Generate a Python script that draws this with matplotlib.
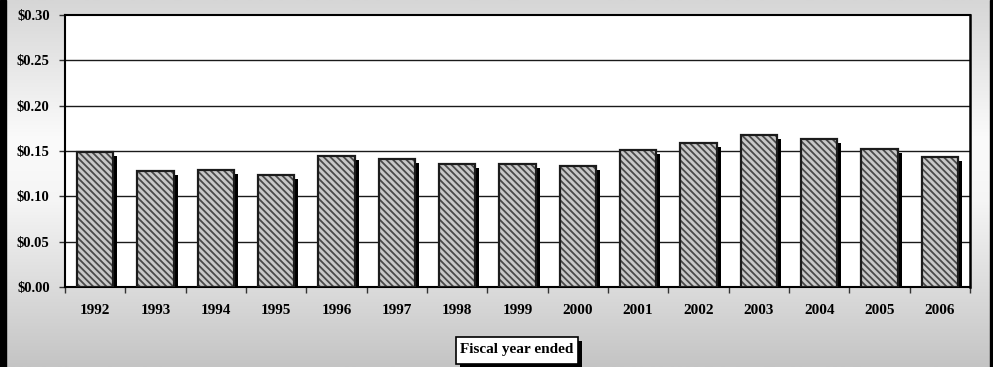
import matplotlib
matplotlib.use("Agg")
import matplotlib.pyplot as plt
from matplotlib.colors import LinearSegmentedColormap
import numpy as np

years = ["1992", "1993", "1994", "1995", "1996", "1997", "1998", "1999",
         "2000", "2001", "2002", "2003", "2004", "2005", "2006"]
dividends = [0.149, 0.128, 0.129, 0.123, 0.145, 0.141, 0.136, 0.136,
             0.133, 0.151, 0.159, 0.168, 0.163, 0.152, 0.143]
y_ticks = [0.00, 0.05, 0.10, 0.15, 0.20, 0.25, 0.30]
y_labels = ["$0.00", "$0.05", "$0.10", "$0.15", "$0.20", "$0.25", "$0.30"]
x_title = "Fiscal year ended"

plt.rcParams['font.family'] = ['Liberation Serif', 'DejaVu Serif']
plt.rcParams['font.weight'] = 'bold'
plt.rcParams['hatch.linewidth'] = 1.3
plt.rcParams['hatch.color'] = '#4a4a4a'

W, H = 993, 367
fig = plt.figure(figsize=(W / 100, H / 100), dpi=100)

# vertical grey-white-grey background
bg = fig.add_axes([0, 0, 1, 1], zorder=-10)
bg_cmap = LinearSegmentedColormap.from_list(
    'bg', [(0.0, '#c4c4c4'), (0.45, '#f5f5f5'), (0.62, '#fbfbfb'), (1.0, '#d6d6d6')])
grad = np.linspace(0, 1, 256).reshape(-1, 1)
bg.imshow(grad, aspect='auto', cmap=bg_cmap, origin='lower', extent=[0, 1, 0, 1])
bg.set_axis_off()
# frame bars at left and right edges
fig.patches.append(plt.Rectangle((0, 0), 6 / W, 1, transform=fig.transFigure,
                                 color='black', zorder=5))
fig.patches.append(plt.Rectangle((990 / W, 0), 3 / W, 1, transform=fig.transFigure,
                                 color='black', zorder=5))

ax = fig.add_axes([65 / W, 1 - 287 / H, (970 - 65) / W, (287 - 15) / H])
ax.set_facecolor('white')

x = np.arange(len(years))
bw = 0.6
# shadow offsets (4 px right and down)
dx = 4 / (905 / len(years))
dy = 4 / (272 / 0.30)
shadow_h = [v - dy for v in dividends]
ax.bar(x + dx, shadow_h, width=bw, color='black', zorder=2)
ax.bar(x, dividends, width=bw, facecolor='#c8c8c8', hatch='\\\\\\\\\\',
       edgecolor='#4a4a4a', linewidth=0, zorder=3)
ax.bar(x, dividends, width=bw, fill=False, edgecolor='#1c1c1c',
       linewidth=1.6, zorder=4)

ax.set_ylim(0, 0.30)
ax.set_xlim(-0.5, len(years) - 0.5)
ax.set_yticks(y_ticks)
ax.set_yticklabels(y_labels, fontsize=10.5, fontweight='bold')
for yv in y_ticks[1:-1]:
    ax.axhline(yv, color='#1a1a1a', lw=1.0, zorder=1)

ax.set_xticks(np.arange(len(years) + 1) - 0.5)
ax.set_xticklabels([])
ax.set_xticks(x, minor=True)
ax.set_xticklabels(years, minor=True, fontsize=11, fontweight='bold')
ax.tick_params(axis='x', which='minor', length=0, pad=12)
ax.tick_params(axis='x', which='major', length=4, width=1, color='#333333')
ax.tick_params(axis='y', length=4, width=1, pad=7, color='#333333')

for s in ax.spines.values():
    s.set_color('black')
    s.set_linewidth(1.5)
ax.spines['right'].set_linewidth(1.8)

# axis title in a white box with a drop shadow
t = fig.text(517 / W, 1 - 350 / H, x_title, ha='center', va='center',
             fontsize=11, fontweight='bold', color='black', zorder=12)
fig.canvas.draw()
tb = t.get_window_extent()
bx0, by0 = tb.x0 - 4, tb.y0 - 7
bw_px, bh_px = tb.width + 8, tb.height + 14
fig.patches.append(plt.Rectangle((bx0 + 4, by0 - 4), bw_px, bh_px, transform=None,
                                 facecolor='black', edgecolor='none', zorder=10))
fig.patches.append(plt.Rectangle((bx0, by0), bw_px, bh_px, transform=None,
                                 facecolor='white', edgecolor='black', lw=1.2, zorder=11))

fig.savefig('out.png', dpi=100)
